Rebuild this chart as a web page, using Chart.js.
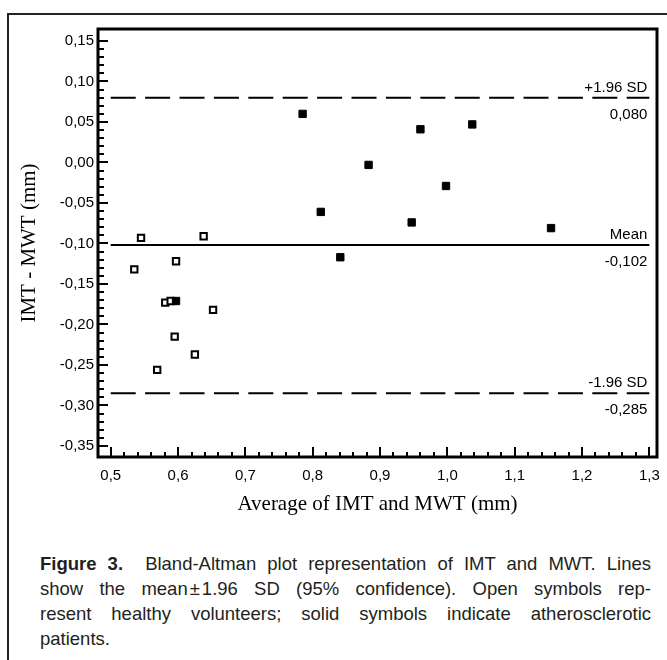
<!DOCTYPE html>
<html>
<head>
<meta charset="utf-8">
<script src="https://cdn.jsdelivr.net/npm/chart.js@4"></script>
<style>
  body { margin: 0; width: 667px; height: 660px; overflow: hidden; background: #fff; position: relative; }
  #frame { position: absolute; left: 7px; top: 13px; width: 720px; height: 720px;
           border-left: 2px solid #222; border-top: 2px solid #222; }
  #wrap { position: absolute; left: 0; top: 0; width: 667px; height: 530px; }
  #caption { position: absolute; left: 40px; top: 551px; width: 611px;
             font-family: "Liberation Sans", Arial, sans-serif; font-size: 18.5px; line-height: 25px; color: #231f20; }
  #caption .ln { text-align: justify; text-align-last: justify; white-space: nowrap; }
  #caption .pm { margin: 0 2px; }
</style>
</head>
<body>
<div id="frame"></div>
<div id="wrap"><canvas id="chart" width="667" height="530"></canvas></div>
<div id="caption">
  <div class="ln"><b>Figure 3.</b>&nbsp; Bland-Altman plot representation of IMT and MWT. Lines</div>
  <div class="ln">show the mean<span class="pm">±</span>1.96 SD (95% confidence). Open symbols rep-</div>
  <div class="ln">resent healthy volunteers; solid symbols indicate atherosclerotic</div>
  <div>patients.</div>
</div>
<script>
// --- DATA ---
const healthyAvg  = [0.545, 0.638, 0.597, 0.535, 0.581, 0.589, 0.652, 0.595, 0.625, 0.569];
const healthyDiff = [-0.093, -0.091, -0.122, -0.132, -0.173, -0.171, -0.182, -0.215, -0.237, -0.256];
const patientAvg  = [0.785, 0.960, 1.037, 0.883, 0.998, 0.812, 0.947, 1.154, 0.841, 0.597];
const patientDiff = [0.060, 0.041, 0.047, -0.003, -0.029, -0.061, -0.074, -0.081, -0.117, -0.171];

const limitNames  = ['+1.96 SD', 'Mean', '-1.96 SD'];
const limitValues = [0.080, -0.102, -0.285];
const lineSpan    = [0.5, 1.3];

const xTitle = 'Average of IMT and MWT (mm)';
const yTitle = 'IMT - MWT (mm)';

// --- helpers ---
const toPoints = (xs, ys) => xs.map((v, i) => ({ x: v, y: ys[i] }));
const comma = (v, d) => (Math.abs(v) < 1e-9 ? 0 : v).toFixed(d).replace('.', ',');
const tickFont = { family: 'Liberation Sans', size: 15 };
const titleFont = { family: 'Liberation Serif', size: 21 };

// inside tick marks, plot frame and labels of the limit lines
const framePlugin = {
    id: 'framePlugin',
    afterDraw(chart) {
        const { ctx, chartArea: a, scales: { x, y } } = chart;
        ctx.save();
        ctx.strokeStyle = '#000';
        ctx.lineWidth = 2;
        ctx.beginPath();
        for (let i = -35; i <= 15; i++) {
            const py = Math.round(y.getPixelForValue(i / 100));
            ctx.moveTo(a.left, py);
            ctx.lineTo(a.left + (i % 5 === 0 ? 10 : 6), py);
        }
        for (let i = 25; i <= 65; i++) {
            const px = Math.round(x.getPixelForValue(i / 50));
            ctx.moveTo(px, a.bottom);
            ctx.lineTo(px, a.bottom - (i % 5 === 0 ? 10 : 5));
        }
        ctx.stroke();

        ctx.lineWidth = 3;
        ctx.strokeRect(a.left, a.top, a.right - a.left, a.bottom - a.top);

        ctx.fillStyle = '#000';
        ctx.font = '15px "Liberation Sans"';
        ctx.textAlign = 'right';
        ctx.textBaseline = 'alphabetic';
        const xr = x.getPixelForValue(lineSpan[1]) - 2;
        limitValues.forEach((v, i) => {
            const py = y.getPixelForValue(v);
            ctx.fillText(limitNames[i], xr, py - 6);
            ctx.fillText(comma(v, 3), xr, py + 21);
        });
        ctx.restore();
    }
};

const limitSets = limitValues.map((v, i) => ({
    type: 'line',
    data: lineSpan.map(s => ({ x: s, y: v })),
    borderColor: '#000',
    borderWidth: 2,
    borderDash: limitNames[i] === 'Mean' ? [] : [25, 9.4],
    pointRadius: 0,
    fill: false,
    order: 3
}));

new Chart(document.getElementById('chart'), {
    type: 'scatter',
    data: {
        datasets: [
            { data: toPoints(patientAvg, patientDiff), pointStyle: 'rect', pointRadius: 5.2, borderWidth: 1,
              backgroundColor: '#000', borderColor: '#000', order: 1 },
            { data: toPoints(healthyAvg, healthyDiff), pointStyle: 'rect', pointRadius: 4.5, borderWidth: 2,
              backgroundColor: '#fff', borderColor: '#000', order: 2 },
            ...limitSets
        ]
    },
    options: {
        responsive: false,
        animation: false,
        layout: { padding: { left: 0, top: 29, right: 10, bottom: 0 } },
        plugins: { legend: { display: false }, tooltip: { enabled: false } },
        scales: {
            x: {
                type: 'linear', min: 0.4811, max: 1.3114,
                grid: { display: false, drawTicks: false },
                border: { display: false },
                ticks: { stepSize: 0.1, includeBounds: false, padding: 10, color: '#000', font: tickFont,
                         maxRotation: 0, autoSkip: false, callback: v => comma(v, 1) },
                title: { display: true, text: xTitle, color: '#000', font: titleFont, padding: { top: 0, bottom: 13 } },
                afterFit: s => { s.height = 73; s.paddingLeft = 0; s.paddingRight = 0; }
            },
            y: {
                type: 'linear', min: -0.3636, max: 0.1648,
                grid: { display: false, drawTicks: false },
                border: { display: false },
                ticks: { stepSize: 0.05, includeBounds: false, padding: 4, color: '#000', font: tickFont,
                         autoSkip: false, callback: v => comma(v, 2) },
                title: { display: true, text: yTitle, color: '#000', font: titleFont, padding: { top: 17, bottom: 0 } },
                afterFit: s => { s.width = 98; s.paddingTop = 0; s.paddingBottom = 0; }
            }
        }
    },
    plugins: [framePlugin]
});
</script>
</body>
</html>
